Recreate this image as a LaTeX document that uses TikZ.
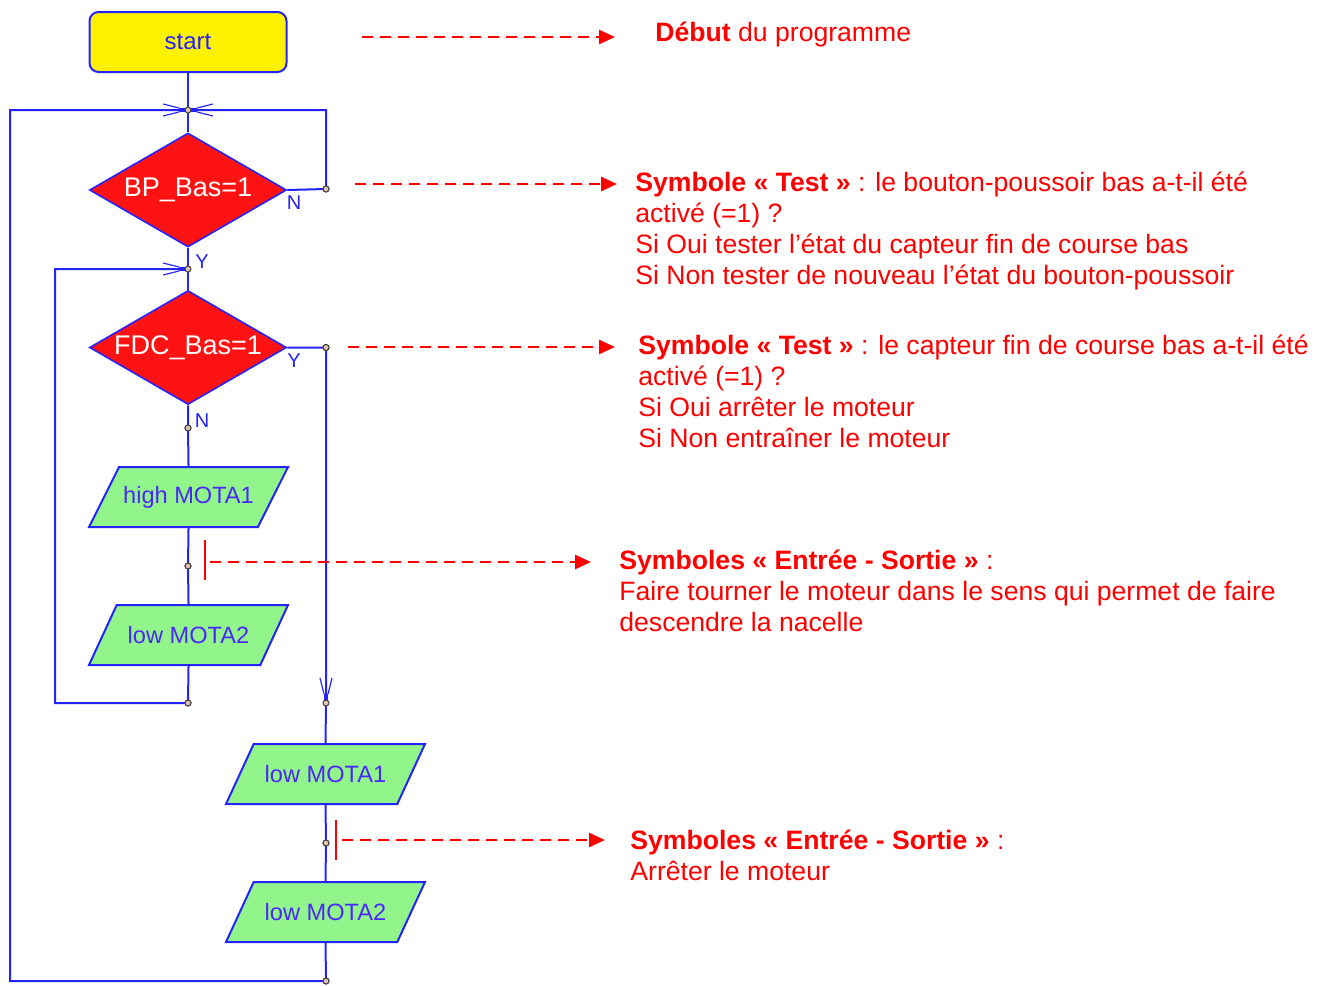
\documentclass[tikz,border=0pt]{standalone}
\usepackage{fontspec}
\setmainfont{Liberation Sans}
\usetikzlibrary{arrows.meta,shapes.geometric,calc}
\definecolor{flow}{RGB}{35,35,250}
\definecolor{testred}{RGB}{255,18,18}
\definecolor{iogreen}{RGB}{145,245,140}
\definecolor{ioink}{RGB}{75,40,250}
\definecolor{noteRed}{RGB}{255,0,0}
\definecolor{pinfill}{RGB}{225,195,175}
\tikzset{
  >={Triangle[length=8pt,width=7pt]},
  wire/.style={draw=flow,line width=1pt},
  startbox/.style={draw=flow,fill=yellow,line width=1pt,rounded corners=4.5pt,
    minimum width=98.5pt,minimum height=30pt,text=flow,font=\fontsize{12}{14}\selectfont},
  test/.style={diamond,aspect=1.73,draw=flow,fill=testred,line width=0.8pt,inner sep=0pt,
    minimum width=98.5pt,minimum height=57pt,text=white,font=\fontsize{13.5}{16}\selectfont},
  io/.style={trapezium,trapezium left angle=63.4,trapezium right angle=116.6,
    trapezium stretches body,draw=flow,fill=iogreen,line width=1pt,inner xsep=0pt,
    inner ysep=9.5pt,minimum width=99.5pt,minimum height=30pt,text=ioink,
    font=\fontsize{11.8}{14}\selectfont},
  answer/.style={text=flow,font=\fontsize{10}{12}\selectfont,inner sep=0pt},
  pin/.style={circle,draw=black!75,fill=pinfill,line width=0.5pt,inner sep=0pt,minimum size=3pt},
  hint/.style={->,draw=noteRed,fill=noteRed,line width=1.3pt,dash pattern=on 5.5pt off 3.5pt},
  redbar/.style={draw=noteRed,line width=1pt},
  note/.style={anchor=north west,inner sep=0pt,align=left,text=noteRed,
    font=\fontsize{13.3}{15.5}\selectfont},
  % feathers where two paths meet
  pics/inflow/.style={code={
    \draw[flow,line width=2.2pt] (-9,0) -- (0,0);
    \draw[flow,line width=0.6pt] (-25,-6) -- (-9,-2) (-25,6) -- (-9,2);
  }},
}

\begin{document}
\begin{tikzpicture}[x=0.5pt,y=-0.5pt]
  \useasboundingbox (0,0) rectangle (1327,985);

  % flowchart
  \node[startbox] (start) at (188,42) {start};
  \node[test] (bp) at (188,190) {BP\_Bas=1};
  \node[test] (fdc) at (188,347.5) {FDC\_Bas=1};
  \node[io] (high1) at (188.5,497) {high MOTA1};
  \node[io] (low2) at (188.5,635) {low MOTA2};
  \node[io] (low1b) at (325.5,774) {low MOTA1};
  \node[io] (low2b) at (325.5,912) {low MOTA2};

  \coordinate (m1) at (188,110);
  \coordinate (m2) at (188,269);
  \coordinate (m3) at (326,703);
  \coordinate (loopA) at (55,269);
  \coordinate (loopB) at (10,110);

  \node[pin] (d1) at (326,189) {};
  \node[pin] (d2) at (326,347.5) {};
  \node[pin] (d3) at (188,428) {};
  \node[pin] (d4) at (188,566) {};
  \node[pin] (d5) at (188,703) {};
  \node[pin] (d6) at (326,843) {};
  \node[pin] (d7) at (326,981) {};

  \draw[wire] (start) -- (m1) -- (bp.north);
  \draw[wire] (bp.east) -- (d1.center) |- (m1);
  \draw[wire] (bp.south) -- (m2) -- (fdc.north);
  \draw[wire] (fdc.east) -- (d2.center) -- (m3) -- (low1b.north);
  \draw[wire] (fdc.south) -- (d3.center) -- (high1.north);
  \draw[wire] (high1.south) -- (d4.center) -- (low2.north);
  \draw[wire] (low2.south) -- (d5.center) -| (loopA) -- (m2);
  \draw[wire] (low1b.south) -- (d6.center) -- (low2b.north);
  \draw[wire] (low2b.south) -- (d7.center) -| (loopB) -- (m1);

  \pic at (m1) {inflow};
  \pic[rotate=180] at (m1) {inflow};
  \pic at (m2) {inflow};
  \pic[rotate=-90] at (m3) {inflow};
  \foreach \p in {d1,d2,d3,d4,d5,d6,d7} \node[pin] at (\p) {};
  \node[pin] at (m1) {};
  \node[pin] at (m2) {};
  \node[pin] at (m3) {};

  \node[answer] (bpN) at (294,203) {N};
  \node[answer] (bpY) at (202,262) {Y};
  \node[answer] (fdcY) at (294,361) {Y};
  \node[answer] (fdcN) at (202,421) {N};

  % comments on the right
  \node[note] (n0) at (655,22) {\textbf{Début} du programme};
  \node[note] (n1) at (635,172) {\textbf{Symbole « Test »} : le bouton-poussoir bas a-t-il été\\
    activé (=1) ?\\Si Oui tester l’état du capteur fin de course bas\\
    Si Non tester de nouveau l’état du bouton-poussoir};
  \node[note] (n2) at (638,335) {\textbf{Symbole « Test »} : le capteur fin de course bas a-t-il été\\
    activé (=1) ?\\Si Oui arrêter le moteur\\Si Non entraîner le moteur};
  \node[note] (n3) at (619,550) {\textbf{Symboles « Entrée - Sortie »} :\\
    Faire tourner le moteur dans le sens qui permet de faire\\descendre la nacelle};
  \node[note] (n4) at (630,830) {\textbf{Symboles « Entrée - Sortie »} :\\Arrêter le moteur};

  \draw[redbar] ($(d4)+(17,-26)$) -- ($(d4)+(17,14)$);
  \draw[redbar] ($(d6)+(10,-23)$) -- ($(d6)+(10,17)$);

  \coordinate (h0) at (362,37);   \coordinate (t0) at (615,37);
  \coordinate (h1) at (355,184);  \coordinate (t1) at (617,184);
  \coordinate (h2) at (348,347);  \coordinate (t2) at (615,347);
  \coordinate (h3) at (210,562);  \coordinate (t3) at (591,562);
  \coordinate (h4) at (342,840);  \coordinate (t4) at (605,840);
  \foreach \i in {0,...,4} \draw[hint] (h\i) -- (t\i);
\end{tikzpicture}
\end{document}
